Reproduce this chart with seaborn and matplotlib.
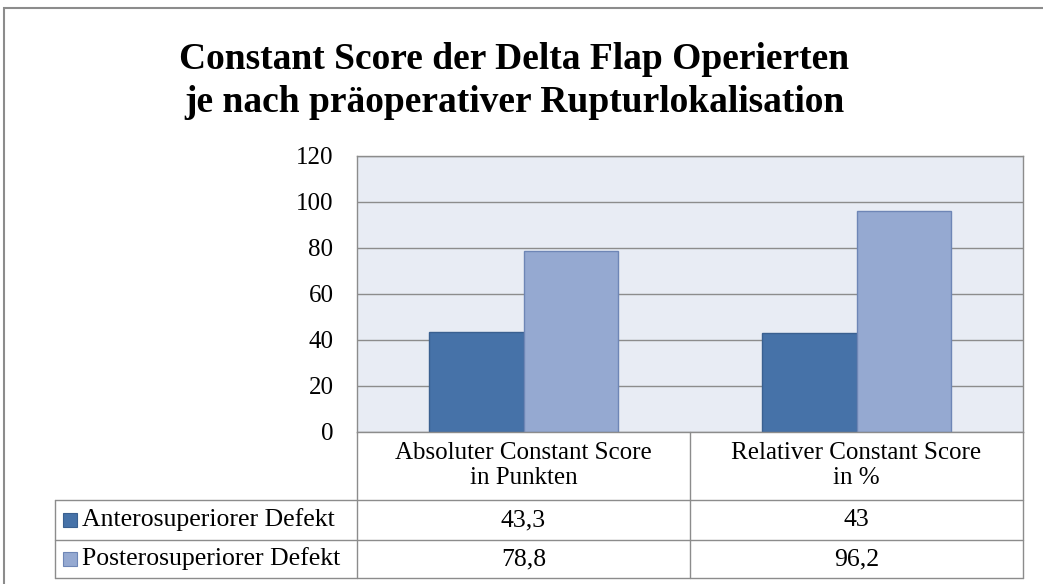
import pandas as pd
import matplotlib.pyplot as plt
import seaborn as sns
from matplotlib.lines import Line2D
from matplotlib.patches import Rectangle

# Data
categories = ["Absoluter Constant Score\nin Punkten", "Relativer Constant Score\nin %"]
series = ["Anterosuperiorer Defekt", "Posterosuperiorer Defekt"]
antero = [43.3, 43.0]
postero = [78.8, 96.2]
table_labels = [["43,3", "43"], ["78,8", "96,2"]]
colors = ["#4672A8", "#95A9D1"]
edges = ["#3A6090", "#6E86B6"]

df = pd.DataFrame({
    "Kategorie": categories * 2,
    "Gruppe": [series[0]] * 2 + [series[1]] * 2,
    "Wert": antero + postero,
})

sns.set_style("white")
plt.rcParams["font.family"] = ["Liberation Serif", "DejaVu Serif"]
plt.rcParams["text.color"] = "black"
plt.rcParams["xtick.color"] = "black"
plt.rcParams["ytick.color"] = "black"

W, H = 1043, 584
fig = plt.figure(figsize=(W / 100, H / 100), dpi=100)


def fx(x):
    return x / W


def fy(y):
    return 1 - y / H


# plot area in pixel coordinates
L, R, T, B = 357, 1023, 156, 432
ax = fig.add_axes([fx(L), fy(B), fx(R) - fx(L), fy(T) - fy(B)])
ax.set_facecolor("#E8ECF4")

sns.barplot(data=df, x="Kategorie", y="Wert", hue="Gruppe", palette=colors,
            width=0.57, ax=ax, legend=False, saturation=1)
for i, p in enumerate(ax.patches):
    p.set_edgecolor(edges[i // 2])
    p.set_linewidth(1)

ax.set_ylim(0, 120)
ax.set_yticks(range(0, 121, 20))
ax.yaxis.grid(True, color="#8C8C8C", linewidth=1)
ax.set_axisbelow(True)
ax.set_xlabel("")
ax.set_ylabel("")
ax.tick_params(axis="y", length=0, pad=17, labelsize=18)
ax.tick_params(axis="x", length=0, pad=7, labelsize=18)
for lab in ax.get_xticklabels():
    lab.set_linespacing(1.2)
for s in ax.spines.values():
    s.set_color("#8C8C8C")
    s.set_linewidth(1)

# data table below the plot
line_c = "#8C8C8C"
TL = 55
rows_y = [500, 540, 578]
cols_x = [L, (L + R) / 2, R]


def hline(x0, x1, y):
    fig.add_artist(Line2D([fx(x0), fx(x1)], [fy(y), fy(y)], color=line_c, lw=1))


def vline(x, y0, y1):
    fig.add_artist(Line2D([fx(x), fx(x)], [fy(y0), fy(y1)], color=line_c, lw=1))


for c in cols_x:
    vline(c, B, rows_y[-1])
vline(TL, rows_y[0], rows_y[-1])
for y in rows_y:
    hline(TL, R, y)

for r, name in enumerate(series):
    yc = (rows_y[r] + rows_y[r + 1]) / 2
    fig.add_artist(Rectangle((fx(63), fy(yc + 7)), fx(14), 14 / H,
                             facecolor=colors[r], edgecolor=edges[r], lw=0.8))
    fig.text(fx(82), fy(yc), name, ha="left", va="center", fontsize=18.5)
    for c in range(2):
        xc = (cols_x[c] + cols_x[c + 1]) / 2
        fig.text(fx(xc), fy(yc), table_labels[r][c], ha="center", va="center",
                 fontsize=18.5)

# outer chart border
fig.add_artist(Rectangle((fx(4), fy(H + 10)), 1.1, fy(8) - fy(H + 10),
                         fill=False, edgecolor="#8C8C8C", lw=1.5))

fig.text(fx(514), fy(81),
         "Constant Score der Delta Flap Operierten\nje nach präoperativer Rupturlokalisation",
         ha="center", va="center", fontsize=27, fontweight="bold", linespacing=1.3)

fig.savefig("out.png", dpi=100)
